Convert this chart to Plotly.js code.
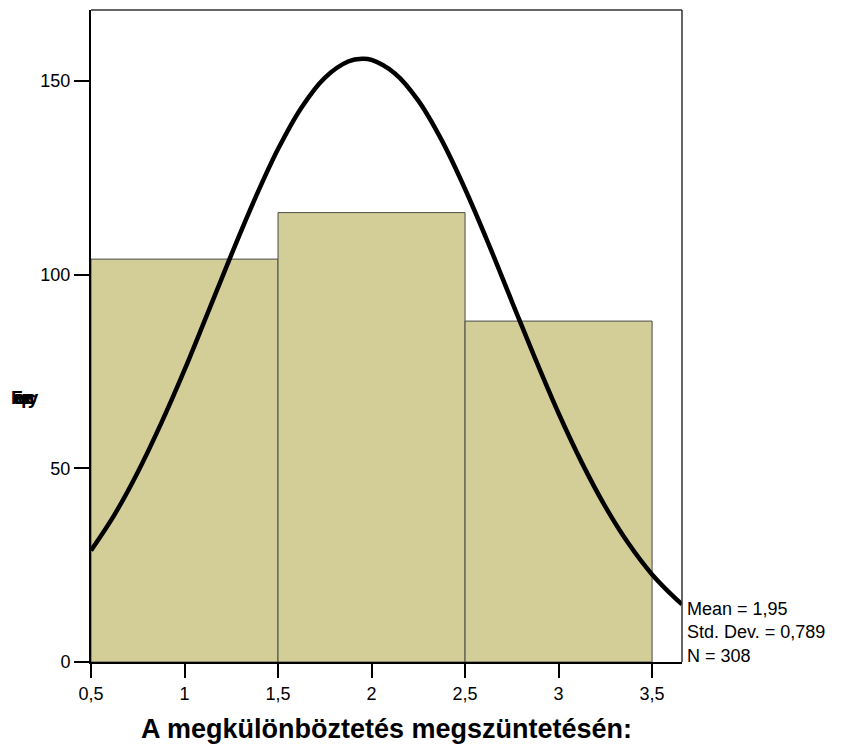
<!DOCTYPE html>
<html>
<head>
<meta charset="utf-8">
<script src="https://cdn.plot.ly/plotly-3.0.1.min.js"></script>
<style>html,body{margin:0;padding:0;background:#fff;}#chart{width:842px;height:745px;}</style>
</head>
<body>
<div id="chart"></div>
<script>
// Histogram bins (centres) and frequencies
const binCenters = [1, 2, 3];
const frequencies = [104, 116, 88];
// Normal curve
const curveX = [0.5, 0.625, 0.75, 0.875, 1.0, 1.125, 1.25, 1.375, 1.5, 1.625, 1.75, 1.875, 1.95, 2.0, 2.125, 2.25, 2.375, 2.5, 2.625, 2.75, 2.875, 3.0, 3.125, 3.25, 3.375, 3.5, 3.625, 3.66];
const curveY = [28.8, 38.0, 49.0, 61.6, 75.4, 90.2, 105.1, 119.4, 132.4, 143.1, 150.8, 155.0, 155.7, 155.4, 151.9, 144.9, 134.7, 122.1, 108.0, 93.1, 78.3, 64.2, 51.4, 40.1, 30.5, 22.6, 16.4, 14.9];
// Ticks
const xTickVals = [0.5, 1, 1.5, 2, 2.5, 3, 3.5];
const xTickText = ["0,5", "1", "1,5", "2", "2,5", "3", "3,5"];
const yTickVals = [0, 50, 100, 150];
const yTickText = ["0", "50", "100", "150"];
const xTitle = "A megkülönböztetés megszüntetésén:";
const yTitle = "Frequency";
const statsLines = ["Mean = 1,95", "Std. Dev. = 0,789", "N = 308"];

const font = "Liberation Sans, Arial, sans-serif";

const traces = [
  {
    type: "bar",
    x: binCenters,
    y: frequencies,
    width: 1,
    marker: {color: "#d3ce97", line: {color: "#4a4a4a", width: 1}},
    hoverinfo: "x+y"
  },
  {
    type: "scatter",
    mode: "lines",
    x: curveX,
    y: curveY,
    line: {color: "#000", width: 4.5, shape: "spline", smoothing: 1},
    cliponaxis: false
  }
];

const annotations = [
  {
    xref: "paper", yref: "paper",
    x: 1, y: -0.008, xshift: 4, xanchor: "left", yanchor: "bottom",
    text: statsLines.join("<br>"),
    align: "left", showarrow: false,
    font: {family: font, size: 18, color: "#000"},
    borderpad: 0
  },
  {
    // y-axis title, drawn with squeezed glyphs as in the reference
    xref: "paper", yref: "paper",
    x: 0, y: 0.405, xshift: -82,
    xanchor: "left", yanchor: "middle",
    text: "<b>" + yTitle + "</b>",
    align: "left", showarrow: false,
    font: {family: font, size: 19, color: "#000"}
  }
];

const layout = {
  width: 842, height: 745,
  margin: {l: 91, r: 160, t: 10, b: 83},
  paper_bgcolor: "#fff", plot_bgcolor: "#fff",
  showlegend: false,
  bargap: 0,
  xaxis: {
    range: [0.5, 3.66],
    tickvals: xTickVals, ticktext: xTickText,
    ticks: "outside", ticklen: 14, tickwidth: 2, tickcolor: "#000",
    showline: true, linecolor: "#000", linewidth: 2,
    showgrid: false, zeroline: false,
    tickfont: {family: font, size: 18, color: "#000"},
    title: {text: "<b>" + xTitle + "</b>", font: {family: font, size: 27, color: "#000"}, standoff: 17}
  },
  yaxis: {
    range: [0, 168.3],
    tickvals: yTickVals, ticktext: yTickText,
    ticks: "outside", ticklen: 15, tickwidth: 2, tickcolor: "#000",
    showline: true, linecolor: "#000", linewidth: 2,
    showgrid: false, zeroline: false,
    tickfont: {family: font, size: 18, color: "#000"}
  },
  shapes: [
    {type: "line", xref: "paper", yref: "paper", x0: 0, x1: 1, y0: 1, y1: 1, line: {color: "#333", width: 1.5}},
    {type: "line", xref: "paper", yref: "paper", x0: 1, x1: 1, y0: 0, y1: 1, line: {color: "#333", width: 1.5}}
  ],
  annotations: annotations
};

Plotly.newPlot("chart", traces, layout, {displayModeBar: false, staticPlot: true}).then(function () {
  document.querySelectorAll("#chart .annotation-text").forEach(function (t) {
    if (t.textContent === yTitle) {
      t.style.letterSpacing = "-8.6px";
    }
  });
});
</script>
</body>
</html>
